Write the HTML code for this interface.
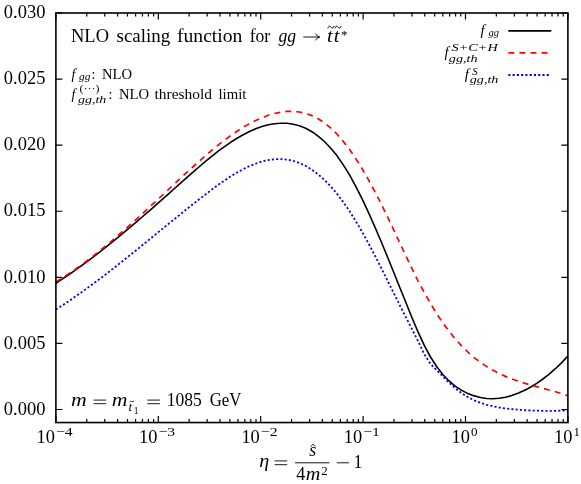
<!DOCTYPE html>
<html><head><meta charset="utf-8"><title>NLO scaling function</title>
<style>
html,body{margin:0;padding:0;background:#fff;}
svg{display:block;font-family:"Liberation Serif",serif;will-change:transform;}
.big{font-size:18px;}
.sm{font-size:14px;}
.it{font-style:italic;}
</style></head>
<body>
<svg width="581" height="484" viewBox="0 0 581 484">
<rect width="581" height="484" fill="#fff"/>
<g fill="none" stroke-linejoin="round">
<path d="M55.9,283.3 L62.1,279.2 L68.4,275.0 L74.6,270.7 L80.9,266.2 L87.1,261.6 L93.4,256.9 L99.6,252.1 L105.9,247.2 L112.1,242.1 L118.3,237.1 L124.6,231.9 L130.8,226.6 L137.1,221.3 L143.3,216.0 L149.6,210.6 L155.8,205.1 L162.0,199.6 L168.3,194.1 L174.5,188.5 L180.8,182.9 L187.0,177.4 L193.3,171.9 L199.5,166.5 L205.8,161.2 L212.0,156.1 L218.2,151.2 L224.5,146.6 L230.7,142.3 L237.0,138.3 L243.2,134.7 L249.5,131.5 L255.7,128.8 L261.9,126.5 L268.2,124.8 L274.4,123.7 L280.7,123.2 L286.9,123.3 L293.2,124.2 L299.4,125.8 L305.7,128.3 L311.9,131.7 L318.1,136.1 L324.4,141.5 L330.6,148.0 L336.9,155.6 L343.1,164.6 L349.4,174.7 L355.6,186.1 L361.9,198.4 L368.1,211.7 L374.3,225.6 L380.6,240.2 L386.8,255.3 L393.1,270.7 L399.3,286.3 L405.6,301.8 L411.8,317.2 L418.0,331.9 L424.3,345.4 L430.5,357.0 L436.8,366.8 L443.0,374.8 L449.3,381.2 L455.5,386.4 L461.8,390.4 L468.0,393.6 L474.2,395.9 L480.5,397.5 L486.7,398.5 L493.0,398.7 L499.2,398.3 L505.5,397.2 L511.7,395.6 L517.9,393.3 L524.2,390.5 L530.4,387.2 L536.7,383.4 L542.9,379.0 L549.2,374.1 L555.4,368.7 L561.7,362.6 L567.9,356.0" stroke="#000" stroke-width="1.6"/>
<path d="M55.9,281.9 L62.1,278.1 L68.4,274.0 L74.6,269.8 L80.9,265.3 L87.1,260.7 L93.4,255.9 L99.6,250.9 L105.9,245.8 L112.1,240.6 L118.3,235.2 L124.6,229.8 L130.8,224.2 L137.1,218.6 L143.3,212.9 L149.6,207.1 L155.8,201.3 L162.0,195.5 L168.3,189.7 L174.5,183.8 L180.8,178.0 L187.0,172.2 L193.3,166.5 L199.5,160.9 L205.8,155.4 L212.0,150.1 L218.2,145.0 L224.5,140.2 L230.7,135.6 L237.0,131.3 L243.2,127.3 L249.5,123.7 L255.7,120.5 L261.9,117.7 L268.2,115.3 L274.4,113.5 L280.7,112.2 L286.9,111.4 L293.2,111.4 L299.4,112.0 L305.7,113.4 L311.9,115.6 L318.1,118.7 L324.4,122.8 L330.6,127.9 L336.9,134.0 L343.1,141.2 L349.4,149.3 L355.6,158.4 L361.9,168.4 L368.1,179.1 L374.3,190.6 L380.6,202.8 L386.8,215.5 L393.1,228.7 L399.3,242.0 L405.6,255.2 L411.8,268.2 L418.0,280.8 L424.3,292.6 L430.5,303.6 L436.8,313.8 L443.0,323.1 L449.3,331.5 L455.5,339.2 L461.8,346.1 L468.0,352.2 L474.2,357.6 L480.5,362.4 L486.7,366.6 L493.0,370.3 L499.2,373.6 L505.5,376.4 L511.7,378.9 L517.9,381.1 L524.2,383.1 L530.4,384.9 L536.7,386.6 L542.9,388.3 L549.2,390.0 L555.4,391.7 L561.7,393.6 L567.9,395.7" stroke="#ff0000" stroke-width="1.7" stroke-dasharray="6 5.1"/>
<path d="M55.9,309.6 L62.1,305.5 L68.4,301.4 L74.6,297.1 L80.9,292.7 L87.1,288.2 L93.4,283.6 L99.6,279.0 L105.9,274.2 L112.1,269.4 L118.3,264.5 L124.6,259.5 L130.8,254.5 L137.1,249.5 L143.3,244.4 L149.6,239.3 L155.8,234.2 L162.0,229.1 L168.3,224.0 L174.5,219.0 L180.8,213.9 L187.0,208.9 L193.3,203.9 L199.5,199.0 L205.8,194.2 L212.0,189.4 L218.2,184.8 L224.5,180.5 L230.7,176.3 L237.0,172.5 L243.2,169.1 L249.5,166.1 L255.7,163.6 L261.9,161.5 L268.2,160.1 L274.4,159.2 L280.7,159.1 L286.9,159.6 L293.2,160.9 L299.4,163.0 L305.7,165.9 L311.9,169.6 L318.1,174.3 L324.4,179.8 L330.6,186.2 L336.9,193.6 L343.1,201.9 L349.4,211.0 L355.6,220.9 L361.9,231.5 L368.1,242.7 L374.3,254.5 L380.6,266.7 L386.8,279.2 L393.1,291.8 L399.3,304.3 L405.6,316.7 L411.8,328.8 L418.0,341.0 L424.3,354.2 L430.5,363.9 L436.8,370.4 L443.0,376.6 L449.3,382.9 L455.5,388.5 L461.8,393.3 L468.0,397.2 L474.2,400.3 L480.5,402.8 L486.7,404.8 L493.0,406.3 L499.2,407.5 L505.5,408.4 L511.7,409.1 L517.9,409.7 L524.2,410.1 L530.4,410.5 L536.7,410.6 L542.9,410.8 L549.2,410.8 L555.4,410.8 L561.7,410.7 L567.9,410.6" stroke="#0000ff" stroke-width="1.8" stroke-dasharray="2.1 2.17"/>
</g>
<g stroke="#000" stroke-width="1.2" fill="none">
<path d="M55.90,422.55 v-6.5 M55.90,13.0 v6.5"/>
<path d="M86.73,422.55 v-3.6 M86.73,13.0 v3.6"/>
<path d="M104.76,422.55 v-3.6 M104.76,13.0 v3.6"/>
<path d="M117.55,422.55 v-3.6 M117.55,13.0 v3.6"/>
<path d="M127.47,422.55 v-3.6 M127.47,13.0 v3.6"/>
<path d="M135.58,422.55 v-3.6 M135.58,13.0 v3.6"/>
<path d="M142.44,422.55 v-3.6 M142.44,13.0 v3.6"/>
<path d="M148.38,422.55 v-3.6 M148.38,13.0 v3.6"/>
<path d="M153.61,422.55 v-3.6 M153.61,13.0 v3.6"/>
<path d="M158.30,422.55 v-6.5 M158.30,13.0 v6.5"/>
<path d="M189.13,422.55 v-3.6 M189.13,13.0 v3.6"/>
<path d="M207.16,422.55 v-3.6 M207.16,13.0 v3.6"/>
<path d="M219.95,422.55 v-3.6 M219.95,13.0 v3.6"/>
<path d="M229.87,422.55 v-3.6 M229.87,13.0 v3.6"/>
<path d="M237.98,422.55 v-3.6 M237.98,13.0 v3.6"/>
<path d="M244.84,422.55 v-3.6 M244.84,13.0 v3.6"/>
<path d="M250.78,422.55 v-3.6 M250.78,13.0 v3.6"/>
<path d="M256.01,422.55 v-3.6 M256.01,13.0 v3.6"/>
<path d="M260.70,422.55 v-6.5 M260.70,13.0 v6.5"/>
<path d="M291.53,422.55 v-3.6 M291.53,13.0 v3.6"/>
<path d="M309.56,422.55 v-3.6 M309.56,13.0 v3.6"/>
<path d="M322.35,422.55 v-3.6 M322.35,13.0 v3.6"/>
<path d="M332.27,422.55 v-3.6 M332.27,13.0 v3.6"/>
<path d="M340.38,422.55 v-3.6 M340.38,13.0 v3.6"/>
<path d="M347.24,422.55 v-3.6 M347.24,13.0 v3.6"/>
<path d="M353.18,422.55 v-3.6 M353.18,13.0 v3.6"/>
<path d="M358.41,422.55 v-3.6 M358.41,13.0 v3.6"/>
<path d="M363.10,422.55 v-6.5 M363.10,13.0 v6.5"/>
<path d="M393.93,422.55 v-3.6 M393.93,13.0 v3.6"/>
<path d="M411.96,422.55 v-3.6 M411.96,13.0 v3.6"/>
<path d="M424.75,422.55 v-3.6 M424.75,13.0 v3.6"/>
<path d="M434.67,422.55 v-3.6 M434.67,13.0 v3.6"/>
<path d="M442.78,422.55 v-3.6 M442.78,13.0 v3.6"/>
<path d="M449.64,422.55 v-3.6 M449.64,13.0 v3.6"/>
<path d="M455.58,422.55 v-3.6 M455.58,13.0 v3.6"/>
<path d="M460.81,422.55 v-3.6 M460.81,13.0 v3.6"/>
<path d="M465.50,422.55 v-6.5 M465.50,13.0 v6.5"/>
<path d="M496.33,422.55 v-3.6 M496.33,13.0 v3.6"/>
<path d="M514.36,422.55 v-3.6 M514.36,13.0 v3.6"/>
<path d="M527.15,422.55 v-3.6 M527.15,13.0 v3.6"/>
<path d="M537.07,422.55 v-3.6 M537.07,13.0 v3.6"/>
<path d="M545.18,422.55 v-3.6 M545.18,13.0 v3.6"/>
<path d="M552.04,422.55 v-3.6 M552.04,13.0 v3.6"/>
<path d="M557.98,422.55 v-3.6 M557.98,13.0 v3.6"/>
<path d="M563.21,422.55 v-3.6 M563.21,13.0 v3.6"/>
<path d="M567.90,422.55 v-6.5 M567.90,13.0 v6.5"/>
<path d="M55.9,409.50 h6.5 M567.9,409.50 h-6.5"/>
<path d="M55.9,343.42 h6.5 M567.9,343.42 h-6.5"/>
<path d="M55.9,277.33 h6.5 M567.9,277.33 h-6.5"/>
<path d="M55.9,211.25 h6.5 M567.9,211.25 h-6.5"/>
<path d="M55.9,145.17 h6.5 M567.9,145.17 h-6.5"/>
<path d="M55.9,79.08 h6.5 M567.9,79.08 h-6.5"/>
<path d="M55.9,13.00 h6.5 M567.9,13.00 h-6.5"/>
</g>
<rect x="55.9" y="13.0" width="512.0" height="409.55" fill="none" stroke="#000" stroke-width="1.6"/>
<g fill="#000">
<text x="45.4" y="414.7" text-anchor="end" class="big" textLength="41.6" lengthAdjust="spacingAndGlyphs">0.000</text>
<text x="45.4" y="348.6" text-anchor="end" class="big" textLength="41.6" lengthAdjust="spacingAndGlyphs">0.005</text>
<text x="45.4" y="282.5" text-anchor="end" class="big" textLength="41.6" lengthAdjust="spacingAndGlyphs">0.010</text>
<text x="45.4" y="216.4" text-anchor="end" class="big" textLength="41.6" lengthAdjust="spacingAndGlyphs">0.015</text>
<text x="45.4" y="150.4" text-anchor="end" class="big" textLength="41.6" lengthAdjust="spacingAndGlyphs">0.020</text>
<text x="45.4" y="84.3" text-anchor="end" class="big" textLength="41.6" lengthAdjust="spacingAndGlyphs">0.025</text>
<text x="45.4" y="18.2" text-anchor="end" class="big" textLength="41.6" lengthAdjust="spacingAndGlyphs">0.030</text>
<text x="36.6" y="442.6" class="big" textLength="18.4" lengthAdjust="spacingAndGlyphs">10</text>
<text x="56.0" y="435.5" font-size="13" textLength="16.7" lengthAdjust="spacingAndGlyphs">−4</text>
<text x="139.0" y="442.6" class="big" textLength="18.4" lengthAdjust="spacingAndGlyphs">10</text>
<text x="158.4" y="435.5" font-size="13" textLength="16.7" lengthAdjust="spacingAndGlyphs">−3</text>
<text x="241.4" y="442.6" class="big" textLength="18.4" lengthAdjust="spacingAndGlyphs">10</text>
<text x="260.8" y="435.5" font-size="13" textLength="16.7" lengthAdjust="spacingAndGlyphs">−2</text>
<text x="343.8" y="442.6" class="big" textLength="18.4" lengthAdjust="spacingAndGlyphs">10</text>
<text x="363.2" y="435.5" font-size="13" textLength="16.7" lengthAdjust="spacingAndGlyphs">−1</text>
<text x="451.6" y="442.6" class="big" textLength="18.4" lengthAdjust="spacingAndGlyphs">10</text>
<text x="471.1" y="435.5" font-size="13">0</text>
<text x="554.0" y="442.6" class="big" textLength="18.4" lengthAdjust="spacingAndGlyphs">10</text>
<text x="573.5" y="435.5" font-size="13">1</text>
</g>
<g fill="#000">
<!-- title -->
<text class="big" y="42.4" x="71" textLength="38" lengthAdjust="spacingAndGlyphs">NLO</text>
<text class="big" y="42.4" x="116.5" textLength="53.7" lengthAdjust="spacingAndGlyphs">scaling</text>
<text class="big" y="42.4" x="177" textLength="65.4" lengthAdjust="spacingAndGlyphs">function</text>
<text class="big" y="42.4" x="249.7" textLength="20.5" lengthAdjust="spacingAndGlyphs">for</text>
<text class="big it" y="42.4" x="278.4" textLength="17.6" lengthAdjust="spacingAndGlyphs">gg</text>
<path d="M303.3,37 H319.4 M315.4,33.6 Q316.6,36.1 319.8,37 Q316.6,37.9 315.4,40.4" fill="none" stroke="#000" stroke-width="0.9"/>
<text class="big it" y="42.2" x="326.9" textLength="5.8" lengthAdjust="spacingAndGlyphs">t</text>
<text class="big it" y="42.2" x="333.7" textLength="5.8" lengthAdjust="spacingAndGlyphs">t</text>
<path d="M327.9,28.4 C328.6,25.6 330.2,25.8 331,27.1 C331.8,28.4 333.4,28.6 334.1,25.9 M334.9,28.4 C335.6,25.6 337.2,25.8 338,27.1 C338.8,28.4 340.4,28.6 341.1,25.9" fill="none" stroke="#000" stroke-width="1"/>
<text font-size="13" y="38.6" x="340.9">*</text>
<!-- small line 1 -->
<text class="sm it" y="78.6" x="71.5">f</text>
<text class="it" font-size="11" y="79.6" x="79.1" textLength="11.4" lengthAdjust="spacingAndGlyphs">gg</text>
<text class="sm" y="78.6" x="91.6">:</text>
<text class="sm" y="78.6" x="102" textLength="30.1" lengthAdjust="spacingAndGlyphs">NLO</text>
<!-- small line 2 -->
<text class="sm it" y="98.7" x="71.5">f</text>
<text font-size="11" y="92.2" x="79.6" textLength="19.8" lengthAdjust="spacingAndGlyphs">(···)</text>
<text class="it" font-size="11" y="103.2" x="77.9" textLength="28.4" lengthAdjust="spacingAndGlyphs">gg,th</text>
<text class="sm" y="98.7" x="108.4">:</text>
<text class="sm" y="98.7" x="118.9" textLength="30.1" lengthAdjust="spacingAndGlyphs">NLO</text>
<text class="sm" y="98.7" x="154.5" textLength="57.4" lengthAdjust="spacingAndGlyphs">threshold</text>
<text class="sm" y="98.7" x="218.5" textLength="27.9" lengthAdjust="spacingAndGlyphs">limit</text>
<!-- bottom annotation -->
<text class="big it" y="405.6" x="71" textLength="15.7" lengthAdjust="spacingAndGlyphs">m</text>
<path d="M93.6,400.1 h12.6 M93.6,403.7 h12.6" stroke="#000" stroke-width="0.9" fill="none"/>
<text class="big it" y="405.6" x="111.8" textLength="15.7" lengthAdjust="spacingAndGlyphs">m</text>
<text class="it" font-size="13" y="411.2" x="128.6">t</text>
<path d="M129.6,402.2 q1,-1.6 2.2,-0.7 q1.2,0.9 2.2,-0.7" fill="none" stroke="#000" stroke-width="0.8"/>
<text font-size="9.5" y="413.6" x="133.8">1</text>
<path d="M147.3,400.1 h12.6 M147.3,403.7 h12.6" stroke="#000" stroke-width="0.9" fill="none"/>
<text class="big" y="405.8" x="166.7" textLength="35.1" lengthAdjust="spacingAndGlyphs">1085</text>
<text class="big" y="405.8" x="209.7" textLength="31.7" lengthAdjust="spacingAndGlyphs">GeV</text>
<!-- legend -->
<text class="it" font-size="15" y="34.6" x="480.6">f</text>
<text class="it" font-size="11" y="35.8" x="488.5" textLength="10.6" lengthAdjust="spacingAndGlyphs">gg</text>
<text class="it" font-size="15" y="57.2" x="444.6">f</text>
<text class="it" font-size="11" y="50.9" x="451.6" textLength="46.2" lengthAdjust="spacingAndGlyphs">S+C+H</text>
<text class="it" font-size="11" y="61.7" x="448.8" textLength="28.8" lengthAdjust="spacingAndGlyphs">gg,th</text>
<text class="it" font-size="15" y="79.4" x="464.8">f</text>
<text class="it" font-size="11" y="75" x="472.2">S</text>
<text class="it" font-size="11" y="83.1" x="469.8" textLength="28.6" lengthAdjust="spacingAndGlyphs">gg,th</text>
<path d="M508.3,30.9 H551.3" stroke="#000" stroke-width="1.6"/>
<path d="M508.3,52.9 H549" stroke="#ff0000" stroke-width="1.7" stroke-dasharray="6 5.1"/>
<path d="M508.3,75 H550.5" stroke="#0000ff" stroke-width="1.8" stroke-dasharray="2.1 2.17"/>
<!-- xlabel -->
<text class="big it" y="467.2" x="259.3" textLength="10" lengthAdjust="spacingAndGlyphs">η</text>
<path d="M274.6,460.9 h12.6 M274.6,464.7 h12.6" stroke="#000" stroke-width="0.9" fill="none"/>
<path d="M295,462.8 H329.5" stroke="#000" stroke-width="0.9" fill="none"/>
<text class="big it" y="455.6" x="309.2">s</text>
<path d="M310.6,446.6 l2.4,-2.6 l2.4,2.6" stroke="#000" stroke-width="0.8" fill="none"/>
<text class="big" y="480.4" x="296.3">4</text>
<text class="big it" y="480.4" x="305.8" textLength="14.6" lengthAdjust="spacingAndGlyphs">m</text>
<text font-size="13" y="475.4" x="321.3">2</text>
<path d="M336.8,462.8 h12.2" stroke="#000" stroke-width="0.9" fill="none"/>
<text class="big" y="468.4" x="353.4">1</text>
</g>

</svg>
</body></html>
